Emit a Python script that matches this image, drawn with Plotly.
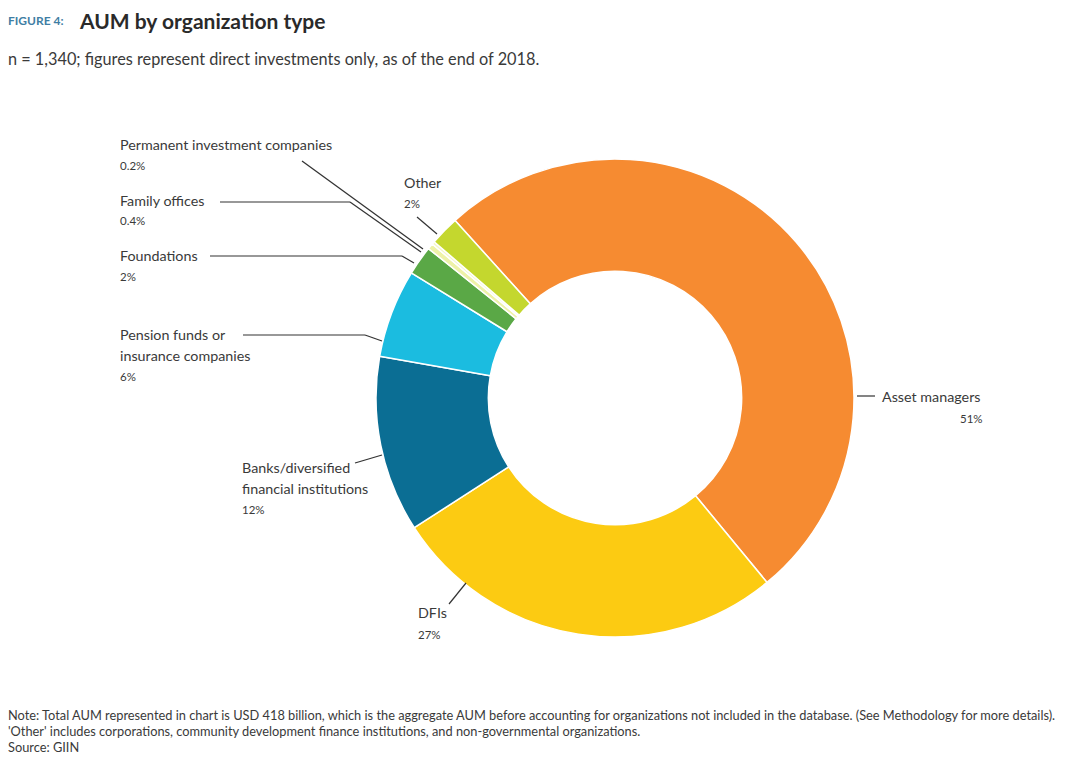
import plotly.graph_objects as go

# ---------------- data ----------------
categories = ["Asset managers", "DFIs", "Banks/diversified financial institutions",
              "Pension funds or insurance companies", "Foundations", "Family offices",
              "Permanent investment companies", "Other"]
values = [51, 27, 12, 6, 2, 0.4, 0.2, 2]
label_lines = [["Asset managers"], ["DFIs"], ["Banks/diversified", "financial institutions"],
               ["Pension funds or", "insurance companies"], ["Foundations"], ["Family offices"],
               ["Permanent investment companies"], ["Other"]]
colors = ["#F68B31", "#FCCB12", "#0B6E94", "#1BBCE0", "#5AA846", "#EEF2A8", "#F4F6C8", "#C4D72E"]

OFF = 8                      # page body margin
W, H = 1080 - 2 * OFF, 764 - 2 * OFF
TEXT = "#3a3a3a"
FONT = "Lato"


def px(x):
    return (x - OFF) / W


def py(y):
    return 1 - (y - OFF) / H


# pie geometry (screen pixels)
cx, cy, R = 615, 398, 239
fig = go.Figure(go.Pie(
    labels=categories, values=values, sort=False, direction="clockwise", rotation=-42,
    hole=0.53, textinfo="none", hoverinfo="label+percent",
    marker=dict(colors=colors, line=dict(color="white", width=1.5)),
    domain=dict(x=[px(cx - R), px(cx + R)], y=[py(cy + R), py(cy - R)]),
    showlegend=False,
))

annotations = []


def add_text(x, y, text, size=14.4, anchor="left", color=TEXT, family=FONT):
    shift = -2 if anchor == "left" else (2 if anchor == "right" else 0)
    annotations.append(dict(x=px(x + shift), y=py(y), xref="paper", yref="paper", text=text,
                            showarrow=False, xanchor=anchor, yanchor="middle",
                            font=dict(size=size, color=color, family=family)))


def pct(v):
    return f"{v:g}%"


# label placements: (x, first-line y, line gap, anchor, pct x, pct anchor)
placements = {
    "Asset managers": (882, 396, 22, "left", 983, "right"),
    "DFIs": (418, 612, 22, "left", 418, "left"),
    "Banks/diversified financial institutions": (242, 467, 21, "left", 242, "left"),
    "Pension funds or insurance companies": (120, 334, 21, "left", 120, "left"),
    "Foundations": (120, 255, 21, "left", 120, "left"),
    "Family offices": (120, 200, 21, "left", 120, "left"),
    "Permanent investment companies": (120, 144, 21, "left", 120, "left"),
    "Other": (404, 182, 21, "left", 404, "left"),
}

for cat, val, lines in zip(categories, values, label_lines):
    x, y, gap, anc, pxp, panc = placements[cat]
    for i, ln in enumerate(lines):
        add_text(x, y + i * gap, ln, 14.3, anc)
    add_text(pxp, y + len(lines) * gap, pct(val), 11.5, panc)

# leader lines (pixel polylines)
leaders = [
    [(857, 396), (875, 396)],
    [(449, 604), (466, 583)],
    [(355, 463), (382, 455)],
    [(243, 335), (365, 335), (382, 341)],
    [(210, 256), (402, 256), (414, 263)],
    [(220, 202), (350, 202), (421, 252)],
    [(302, 161), (423, 249)],
    [(417, 217), (437, 234)],
]
shapes = []
for pts in leaders:
    for (x0, y0), (x1, y1) in zip(pts[:-1], pts[1:]):
        shapes.append(dict(type="line", xref="paper", yref="paper",
                           x0=px(x0), y0=py(y0), x1=px(x1), y1=py(y1),
                           line=dict(color="#333333", width=1.2)))

# titles
add_text(8, 21, "<b>FIGURE 4:</b>", 12, color="#3F7EA4")
add_text(79, 21, "<b>AUM by organization type</b>", 21, color="#2a2a2a")
add_text(8, 59, "n = 1,340; figures represent direct investments only, as of the end of 2018.", 16.3)

# notes
notes = [
    "Note: Total AUM represented in chart is USD 418 billion, which is the aggregate AUM before accounting for organizations not included in the database. (See Methodology for more details).",
    "'Other' includes corporations, community development finance institutions, and non-governmental organizations.",
    "Source: GIIN",
]
for i, n in enumerate(notes):
    add_text(8, 715 + i * 16, n, 12.8, family="Lato")

fig.update_layout(width=W, height=H, margin=dict(l=0, r=0, t=0, b=0),
                  paper_bgcolor="white", plot_bgcolor="white",
                  annotations=annotations, shapes=shapes)

fig.write_html("out.html")
